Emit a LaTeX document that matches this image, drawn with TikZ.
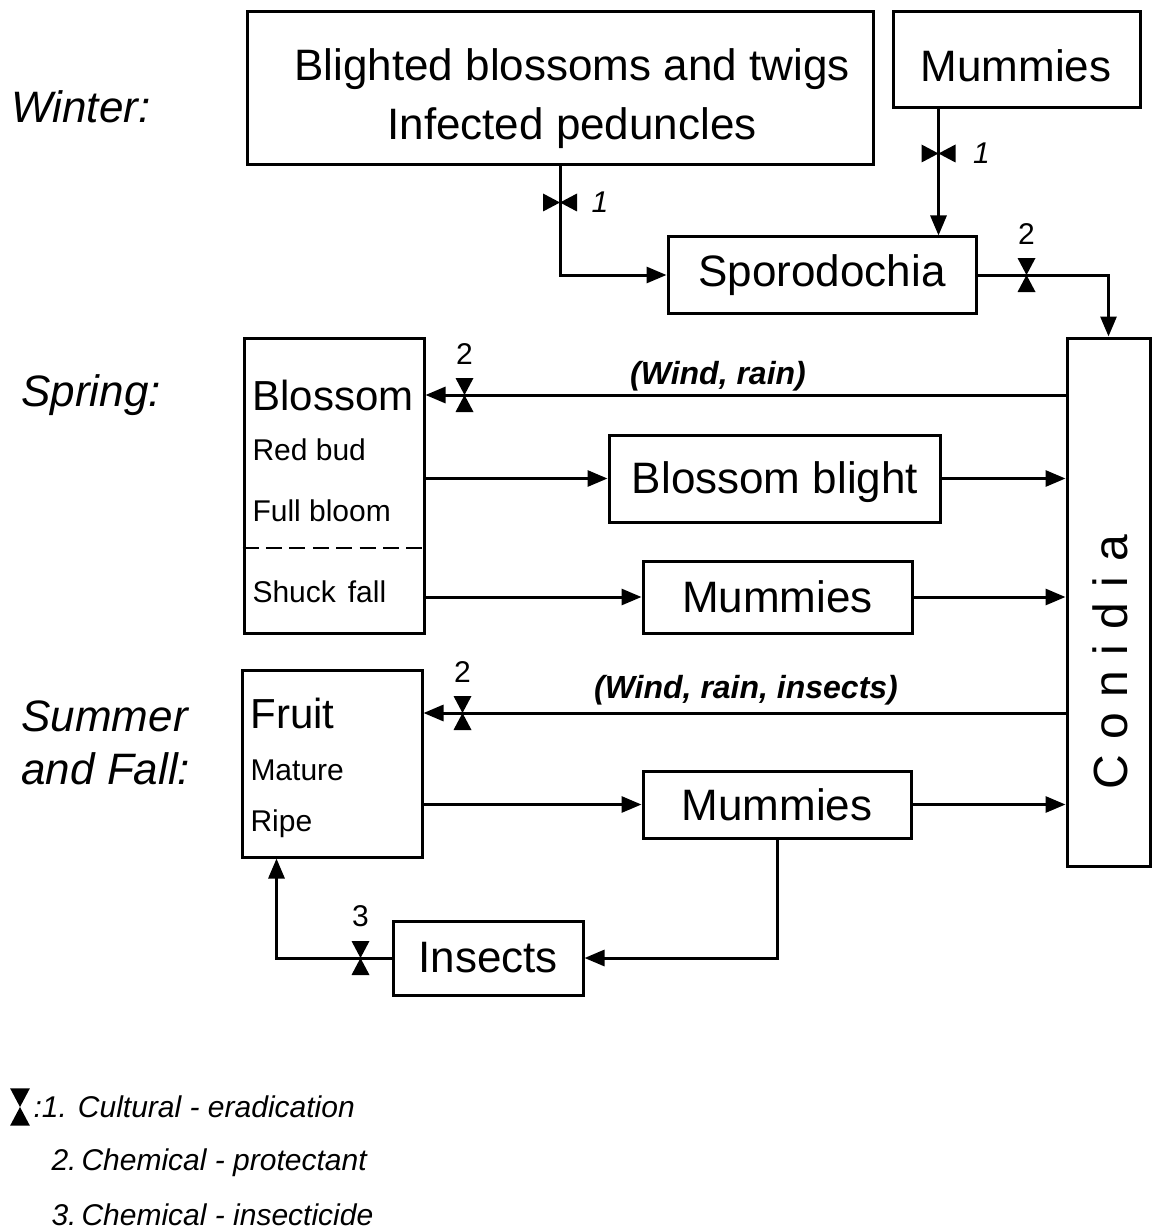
\documentclass[tikz,border=0pt]{standalone}
\usepackage{fontspec}
\setmainfont{Liberation Sans}
\usetikzlibrary{arrows.meta}

\tikzset{every picture/.style={line width=1.5pt}}
\tikzset{
  box/.style={draw, inner sep=0pt},
  arr/.style={-{Triangle[length=10pt,width=8pt]}},
  big/.style={font=\fontsize{22}{29.5}\selectfont},
  boxhead/.style={anchor=west, inner sep=1pt, font=\fontsize{21}{24}\selectfont},
  boxline/.style={anchor=west, inner sep=1pt, font=\fontsize{15}{18}\selectfont},
  season/.style={anchor=west, align=left, inner sep=1pt, font=\itshape\fontsize{22}{26.5}\selectfont},
  wind/.style={font=\bfseries\itshape\fontsize{16}{19}\selectfont},
  num/.style={inner sep=1pt, font=\fontsize{15}{18}\selectfont},
  numit/.style={inner sep=1pt, font=\itshape\fontsize{15}{18}\selectfont},
  legend/.style={anchor=west, inner sep=1pt, font=\itshape\fontsize{15}{18}\selectfont},
  valveV/.pic={\fill (-9,-17) -- (9,-17) -- (0,0) -- cycle (-9,17) -- (9,17) -- (0,0) -- cycle;},
  valveH/.pic={\fill (-17,-9) -- (-17,9) -- (0,0) -- cycle (17,-9) -- (17,9) -- (0,0) -- cycle;}
}

\begin{document}
\begin{tikzpicture}[x=0.5pt,y=0.5pt,yscale=-1]
    \useasboundingbox (0,0) rectangle (1159,1230);

    %Shape: Rectangle
    \node[box, minimum width=313pt, minimum height=76.5pt] (blighted) at (560,88.5) {};
    \node[big, align=center] (blightedtxt) at (572,99) {Blighted blossoms and twigs\\Infected peduncles};
    %Shape: Rectangle
    \node[box, big, minimum width=123.5pt, minimum height=48pt] (mumtop) at (1016.5,60) {};
    \node[big] (mumtoptxt) at (1016,66) {Mummies};
    %Shape: Rectangle
    \node[box, big, minimum width=154pt, minimum height=38pt] (sporo) at (822,275) {Sporodochia};
    %Shape: Rectangle
    \node[box, minimum width=41.5pt, minimum height=264pt] (conidia) at (1108.5,602) {};
    \node[rotate=90, font=\fontsize{24}{28}\selectfont] (conidiatxt) at (1110,662) {C\hspace{0.32em}o\hspace{0.32em}n\hspace{0.32em}i\hspace{0.32em}d\hspace{0.32em}i\hspace{0.32em}a};
    %Shape: Rectangle
    \node[box, minimum width=90pt, minimum height=147.5pt] (blossom) at (334,485.5) {};
    \draw[line width=1.3pt, dash pattern=on 8pt off 3.71pt] (blossom.west |- 0,548) -- (blossom.east |- 0,548);
    %Shape: Rectangle
    \node[box, big, minimum width=165.5pt, minimum height=43.5pt] (blight) at (774.5,478.5) {};
    \node[big] (blighttxt) at (775,482) {Blossom blight};
    %Shape: Rectangle
    \node[box, big, minimum width=134.5pt, minimum height=36pt] (mumspring) at (777.5,597) {Mummies};
    %Shape: Rectangle
    \node[box, minimum width=90pt, minimum height=93.5pt] (fruit) at (332,763.5) {};
    %Shape: Rectangle
    \node[box, big, minimum width=134pt, minimum height=33.5pt] (mumsummer) at (777,804.5) {Mummies};
    %Shape: Rectangle
    \node[box, big, minimum width=95pt, minimum height=37pt] (insects) at (488,958) {Insects};

    % Text Node
    \node[boxhead] (blossomtxt) at (249,395) {Blossom};
    \node[boxline] (redbud) at (249,450) {Red bud};
    \node[boxline] (fullbloom) at (249,511) {Full bloom};
    \node[boxline] (shuck) at (249,592) {Shuck\hspace{0.4em}fall};
    \node[boxhead] (fruittxt) at (247,713) {Fruit};
    \node[boxline] (mature) at (247,770) {Mature};
    \node[boxline] (ripe) at (247,824) {Ripe};

    % Text Node
    \node[season] (winter) at (8,107) {Winter:};
    \node[season] (spring) at (18,395) {Spring:};
    \node[season] (summer) at (18,743) {Summer\\and Fall:};
    % Text Node
    \node[wind] (windrain) at (718,376) {(Wind, rain)};
    \node[wind] (windins) at (746,690) {(Wind, rain, insects)};

    %Straight Lines
    \draw[arr] (blighted.south) |- (sporo.west);
    \draw[arr] ([xshift=23.5pt]mumtop.south west) -- ([xshift=23.5pt]mumtop.south west |- sporo.north);
    \draw[arr] (sporo.east) -| (conidia.north);
    \draw[arr] (conidia.west |- blossomtxt) -- (blossom.east |- blossomtxt);
    \draw[arr] (blossom.east |- blight) -- (blight.west);
    \draw[arr] (blight.east) -- (conidia.west |- blight);
    \draw[arr] (blossom.east |- mumspring) -- (mumspring.west);
    \draw[arr] (mumspring.east) -- (conidia.west |- mumspring);
    \draw[arr] (conidia.west |- fruittxt) -- (fruit.east |- fruittxt);
    \draw[arr] (fruit.east |- mumsummer) -- (mumsummer.west);
    \draw[arr] (mumsummer.east) -- (conidia.west |- mumsummer);
    \draw[arr] (mumsummer.south) |- (insects.east);
    \draw[arr] (insects.west) -| ([xshift=18pt]fruit.south west);

    %Valves
    \pic at ([yshift=18pt]blighted.south) {valveH};
    \node[numit] (n1a) at ([xshift=20pt,yshift=18pt]blighted.south) {1};
    \pic at ([xshift=23.5pt,yshift=22pt]mumtop.south west) {valveH};
    \node[numit] (n1b) at ([xshift=45pt,yshift=22pt]mumtop.south west) {1};
    \pic at ([xshift=24.5pt]sporo.east) {valveV};
    \node[num] (n2a) at ([xshift=24.5pt,yshift=-20.5pt]sporo.east) {2};
    \pic at ([xshift=19.5pt]blossom.east |- blossomtxt) {valveV};
    \node[num] (n2b) at ([xshift=19.5pt,yshift=-20.5pt]blossom.east |- blossomtxt) {2};
    \pic at ([xshift=19.5pt]fruit.east |- fruittxt) {valveV};
    \node[num] (n2c) at ([xshift=19.5pt,yshift=-20.5pt]fruit.east |- fruittxt) {2};
    \pic at ([xshift=-15.5pt]insects.west) {valveV};
    \node[num] (n3) at ([xshift=-15.5pt,yshift=-21pt]insects.west) {3};

    %Legend
    \pic[scale=1.1] at (20,1107) {valveV};
    \node[legend] (leg1) at (30,1107) {:1. Cultural - eradication};
    \node[legend] (leg2) at (48,1163) {2.\,Chemical - protectant};
    \node[legend] (leg3) at (48,1215) {3.\,Chemical - insecticide};
\end{tikzpicture}
\end{document}
